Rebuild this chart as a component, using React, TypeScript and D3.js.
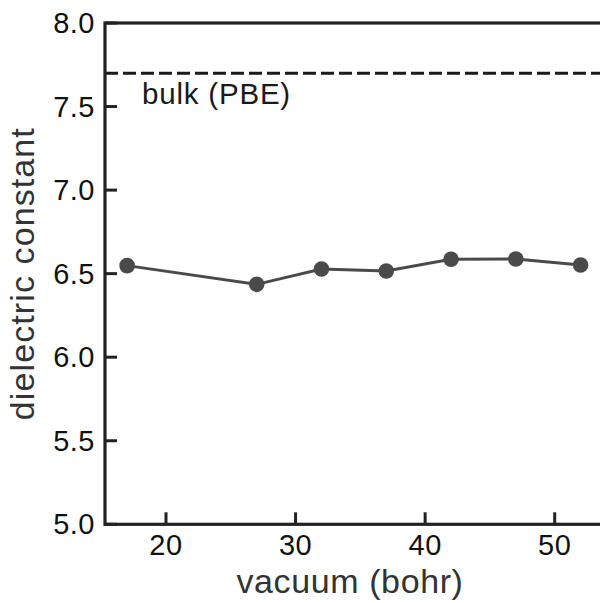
import React from "react";
import * as d3 from "d3";

const vacuum = [17, 27, 32, 37, 42, 47, 52];
const dielectric = [6.548, 6.436, 6.528, 6.516, 6.586, 6.588, 6.552];
const bulkValue = 7.7;
const bulkLabel = "bulk (PBE)";
const xTicks = [20, 30, 40, 50];
const yTicks = [5.0, 5.5, 6.0, 6.5, 7.0, 7.5, 8.0];
const xLabel = "vacuum (bohr)";
const yLabel = "dielectric constant";

const W = 600;
const H = 603;
const left = 105;
const top = 23;
const bottom = 524.3;

export default function App() {
  const x = d3.scaleLinear().domain([20, 50]).range([166, 554.7]);
  const y = d3.scaleLinear().domain([5, 8]).range([bottom, top]);
  const right = 606;
  const line = d3
    .line<number>()
    .x((_, i) => x(vacuum[i]))
    .y((d) => y(d));
  const font = "'Liberation Sans', Arial, Helvetica, sans-serif";
  const axisColor = "#222";
  const markColor = "#4a4a4a";
  return (
    <svg
      width={W}
      height={H}
      style={{ position: "absolute", left: 0, top: 0, background: "#fff" }}
      fontFamily={font}
    >
      {/* dashed bulk line */}
      <line
        x1={left}
        x2={right}
        y1={y(bulkValue)}
        y2={y(bulkValue)}
        stroke="#1a1a1a"
        strokeWidth={3}
        strokeDasharray="13,5"
      />
      <text x={142} y={y(bulkValue) + 31} fontSize={29.5} letterSpacing={0.8} fill="#1a1a1a">
        {bulkLabel}
      </text>
      {/* data line */}
      <path d={line(dielectric) || ""} fill="none" stroke={markColor} strokeWidth={3} />
      {dielectric.map((d, i) => (
        <circle key={i} cx={x(vacuum[i])} cy={y(d)} r={7.8} fill={markColor} />
      ))}
      {/* spines */}
      <rect
        x={left}
        y={top}
        width={right - left}
        height={bottom - top}
        fill="none"
        stroke={axisColor}
        strokeWidth={3.2}
      />
      {/* y ticks */}
      {yTicks.map((t) => (
        <g key={t}>
          <line x1={left} x2={left + 12} y1={y(t)} y2={y(t)} stroke={axisColor} strokeWidth={3} />
          <text
            x={95}
            y={y(t)}
            textAnchor="end"
            dominantBaseline="central"
            fontSize={29}
            letterSpacing={0.5}
            fill="#111"
          >
            {t.toFixed(1)}
          </text>
        </g>
      ))}
      {/* x ticks */}
      {xTicks.map((t) => (
        <g key={t}>
          <line x1={x(t)} x2={x(t)} y1={bottom} y2={bottom - 12} stroke={axisColor} strokeWidth={3} />
          <text x={x(t)} y={555} textAnchor="middle" fontSize={29} letterSpacing={0.5} fill="#111">
            {t}
          </text>
        </g>
      ))}
      <text x={350} y={593} textAnchor="middle" fontSize={34} letterSpacing={0.6} fill="#333">
        {xLabel}
      </text>
      <text
        transform={`translate(33.5, ${(top + bottom) / 2}) rotate(-90)`}
        textAnchor="middle"
        fontSize={34}
        letterSpacing={1.1}
        fill="#333"
      >
        {yLabel}
      </text>
    </svg>
  );
}
